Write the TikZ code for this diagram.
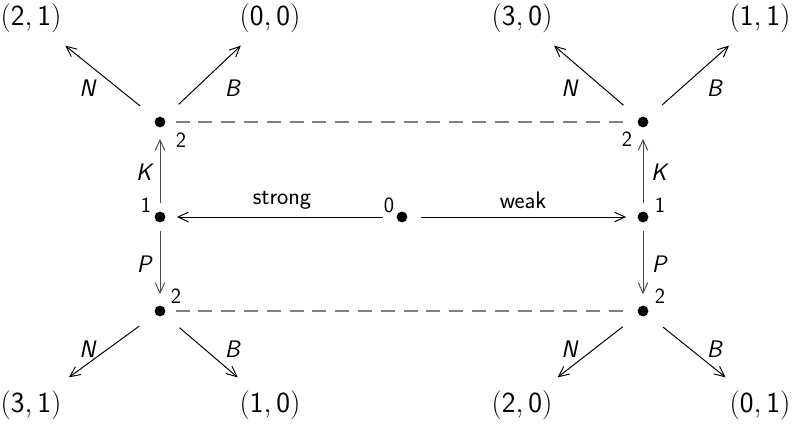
\documentclass[tikz,border=0pt]{standalone}
\usepackage{tikz}
\usetikzlibrary{arrows.meta}
\renewcommand{\familydefault}{\sfdefault}

\begin{document}
\begin{tikzpicture}[
  dot/.style={circle, fill=black, inner sep=0pt, minimum size=0.27cm},
  payoff/.style={inner sep=0.32cm, font=\fontsize{22}{24}\selectfont},
  lbl/.style={font=\fontsize{17}{19}\selectfont},
  plr/.style={font=\fontsize{15.5}{17}\selectfont},
  arw/.style={-{Straight Barb[length=2.6mm, width=2.4mm]}, line width=0.7pt},
  info/.style={dashed, dash pattern=on 0.35cm off 0.22cm, gray, line width=0.9pt},
]
\useasboundingbox (0,0) rectangle (19.925,-10.675);

% decision nodes
\node[dot] (n0) at (10.05,-5.425) {};
\node[dot] (l1) at (4.0,-5.425) {};
\node[dot] (r1) at (16.075,-5.425) {};
\node[dot] (lu) at (4.0,-3.05) {};
\node[dot] (ld) at (4.0,-7.775) {};
\node[dot] (ru) at (16.075,-3.05) {};
\node[dot] (rd) at (16.075,-7.775) {};

% player labels
\node[plr] (p0) at (9.725,-5.125) {0};
\node[plr] (pl1) at (3.65,-5.125) {1};
\node[plr] (pr1) at (16.5,-5.125) {1};
\node[plr] (plu) at (4.525,-3.5) {2};
\node[plr] (pld) at (4.4,-7.4) {2};
\node[plr] (pru) at (15.675,-3.475) {2};
\node[plr] (prd) at (16.5,-7.4) {2};

% payoffs
\node[payoff] (t1) at (0.775,-0.45) {$(\mathsf{2},\mathsf{1})$};
\node[payoff] (t2) at (6.75,-0.45) {$(\mathsf{0},\mathsf{0})$};
\node[payoff] (t3) at (13.05,-0.45) {$(\mathsf{3},\mathsf{0})$};
\node[payoff] (t4) at (19.0,-0.45) {$(\mathsf{1},\mathsf{1})$};
\node[payoff] (t5) at (0.775,-10.125) {$(\mathsf{3},\mathsf{1})$};
\node[payoff] (t6) at (6.75,-10.125) {$(\mathsf{1},\mathsf{0})$};
\node[payoff] (t7) at (13.05,-10.125) {$(\mathsf{2},\mathsf{0})$};
\node[payoff] (t8) at (19.0,-10.125) {$(\mathsf{0},\mathsf{1})$};

% nature's move
\draw[arw, shorten <=0.33cm, shorten >=0.28cm] (n0) -- (l1);
\draw[arw, shorten <=0.33cm, shorten >=0.28cm] (n0) -- (r1);
\node[lbl] (ls) at (7.05,-5.0) {strong};
\node[lbl] (lw) at (13.075,-5.0) {weak};

% player 1
\draw[arw, gray!60!black, shorten <=0.2cm, shorten >=0.28cm] (l1) -- (lu);
\draw[arw, gray!60!black, shorten <=0.2cm, shorten >=0.28cm] (l1) -- (ld);
\draw[arw, gray!60!black, shorten <=0.2cm, shorten >=0.28cm] (r1) -- (ru);
\draw[arw, gray!60!black, shorten <=0.2cm, shorten >=0.28cm] (r1) -- (rd);
\node[lbl] (lk) at (3.625,-4.3) {\textit{K}};
\node[lbl] (lp) at (3.625,-6.6) {\textit{P}};
\node[lbl] (rk) at (16.5,-4.3) {\textit{K}};
\node[lbl] (rp) at (16.5,-6.6) {\textit{P}};

% player 2
\draw[arw, shorten <=0.5cm] (lu) -- (t1);
\draw[arw, shorten <=0.5cm] (lu) -- (t2);
\draw[arw, shorten <=0.5cm] (ru) -- (t3);
\draw[arw, shorten <=0.5cm] (ru) -- (t4);
\draw[arw, shorten <=0.5cm] (ld) -- (t5);
\draw[arw, shorten <=0.5cm] (ld) -- (t6);
\draw[arw, shorten <=0.5cm] (rd) -- (t7);
\draw[arw, shorten <=0.5cm] (rd) -- (t8);
\node[lbl] (a1) at (2.2,-2.2) {\textit{N}};
\node[lbl] (a2) at (5.825,-2.2) {\textit{B}};
\node[lbl] (a3) at (14.25,-2.2) {\textit{N}};
\node[lbl] (a4) at (17.875,-2.2) {\textit{B}};
\node[lbl] (a5) at (2.2,-8.725) {\textit{N}};
\node[lbl] (a6) at (5.825,-8.725) {\textit{B}};
\node[lbl] (a7) at (14.25,-8.725) {\textit{N}};
\node[lbl] (a8) at (17.875,-8.725) {\textit{B}};

% information sets
\draw[info, shorten <=0.25cm, shorten >=0.25cm] (lu) -- (ru);
\draw[info, shorten <=0.25cm, shorten >=0.25cm] (ld) -- (rd);
\end{tikzpicture}
\end{document}
